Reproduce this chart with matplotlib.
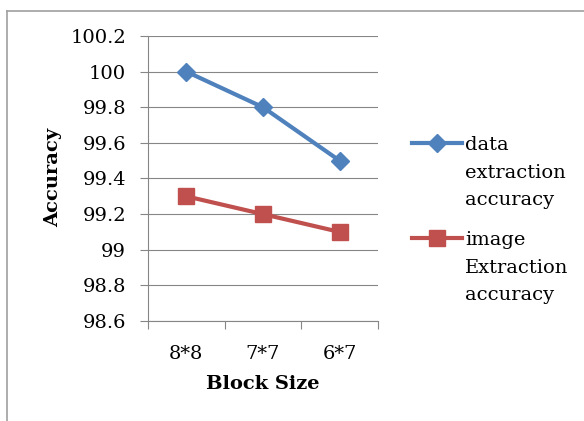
import matplotlib
matplotlib.use("Agg")
import matplotlib.pyplot as plt
from matplotlib.lines import Line2D
from matplotlib.ticker import FixedLocator, FuncFormatter

# data
block_sizes = ["8*8", "7*7", "6*7"]
data_accuracy = [100.0, 99.8, 99.5]
image_accuracy = [99.3, 99.2, 99.1]
series_labels = ["data\nextraction\naccuracy", "image\nExtraction\naccuracy"]
y_ticks = [98.6, 98.8, 99.0, 99.2, 99.4, 99.6, 99.8, 100.0, 100.2]

BLUE = "#4F81BD"
RED = "#C0504D"
GRID = "#868686"

plt.rcParams["font.family"] = ["DejaVu Serif"]
plt.rcParams["font.size"] = 14

fig = plt.figure(figsize=(5.84, 4.21), dpi=100)
ax = fig.add_axes([148 / 584, 1 - 321 / 421, 230 / 584, 285 / 421])

styles = [
    dict(color=BLUE, marker="D", markersize=9, linewidth=3),
    dict(color=RED, marker="s", markersize=11, linewidth=3),
]
x = list(range(len(block_sizes)))
ax.plot(x, data_accuracy, **styles[0], zorder=3)
ax.plot(x, image_accuracy, **styles[1], zorder=3)

ax.set_xlim(-0.5, len(block_sizes) - 0.5)
ax.set_ylim(y_ticks[0], y_ticks[-1])
ax.set_yticks(y_ticks)
ax.yaxis.set_major_formatter(FuncFormatter(lambda v, _: f"{v:g}"))
ax.set_xticks(x)
ax.set_xticklabels(block_sizes)
ax.xaxis.set_minor_locator(FixedLocator([i - 0.5 for i in range(len(block_sizes) + 1)]))

ax.grid(axis="y", color=GRID, linewidth=0.8)
ax.set_axisbelow(True)
for side in ("top", "right"):
    ax.spines[side].set_visible(False)
for side in ("left", "bottom"):
    ax.spines[side].set_color(GRID)
    ax.spines[side].set_linewidth(0.8)

ax.tick_params(axis="y", direction="out", length=5.8, width=0.8, color=GRID, pad=10)
ax.tick_params(axis="x", which="major", length=0, pad=17)
ax.tick_params(axis="x", which="minor", direction="out", length=5.8, width=0.8, color=GRID)

ax.set_xlabel("Block Size", fontweight="bold", fontsize=14, va="center")
ax.xaxis.set_label_coords(0.5, (321 - 384) / 285)
ax.set_ylabel("Accuracy", fontweight="bold", fontsize=14, va="center", ha="center")
ax.yaxis.set_label_coords((53 - 148) / 230, (321 - 177) / 285)

# legend drawn by hand so the handle sits on the first text line
W, H = 584, 421
for style, label, hy, ty in zip(styles, series_labels, [143, 238], [136, 231]):
    fig.add_artist(Line2D([412 / W, 462 / W], [1 - hy / H] * 2,
                          color=style["color"], linewidth=style["linewidth"],
                          transform=fig.transFigure))
    fig.add_artist(Line2D([437 / W], [1 - hy / H], linestyle="none",
                          marker=style["marker"], markersize=style["markersize"],
                          color=style["color"], transform=fig.transFigure))
    fig.text(465 / W, 1 - ty / H, label, va="top", ha="left",
             linespacing=1.68)

# chart frame (left and top edges only visible in the reference)
fig.add_artist(Line2D([7 / W, 7 / W], [0, 1 - 10.5 / H], color="#A0A0A0",
                      linewidth=1.2, transform=fig.transFigure))
fig.add_artist(Line2D([7 / W, 1], [1 - 10.5 / H] * 2, color="#A0A0A0",
                      linewidth=1.2, transform=fig.transFigure))

fig.savefig("out.png", dpi=100)
